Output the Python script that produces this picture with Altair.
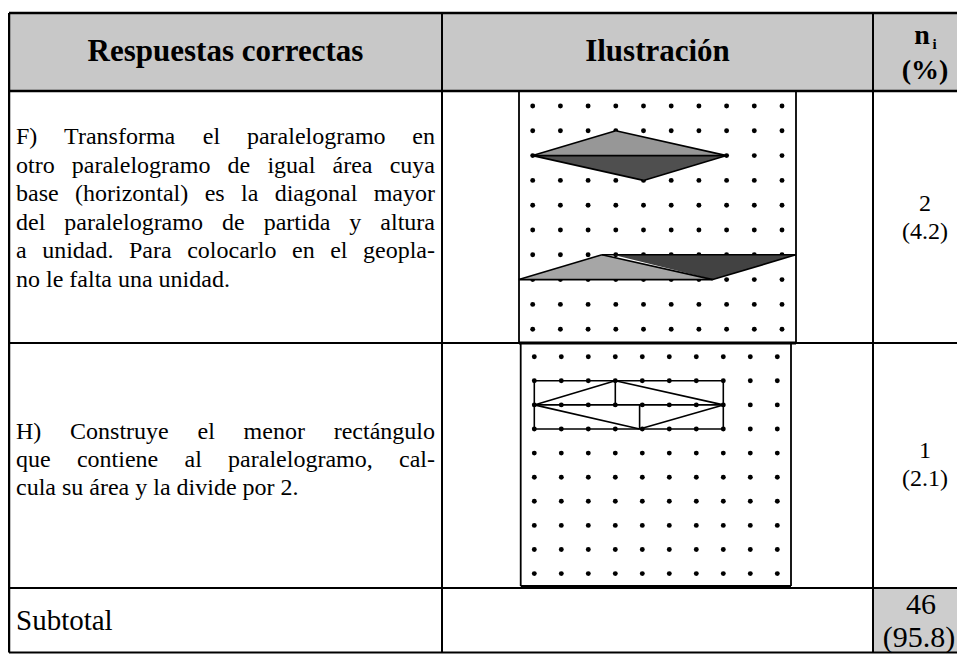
import altair as alt
import pandas as pd

# ---------------- data ----------------
header_labels = ["Respuestas correctas", "Ilustración"]
answer_F = [
    "F) Transforma el paralelogramo en",
    "otro paralelogramo de igual área cuya",
    "base (horizontal) es la diagonal mayor",
    "del paralelogramo de partida y altura",
    "a unidad. Para colocarlo en el geopla-",
    "no le falta una unidad.",
]
answer_H = [
    "H) Construye el menor rectángulo",
    "que contiene al paralelogramo, cal-",
    "cula su área y la divide por 2.",
]
counts = ["2", "1", "46"]
percents = ["(4.2)", "(2.1)", "(95.8)"]
subtotal_label = "Subtotal"

# geoplane pegs (10 x 10)
grid_cols = list(range(10))
grid_rows = list(range(10))

# geoplane F: filled triangles (col, row) with a horizontal base row
f_rhombus_top = [(0, 2), (3, 1), (7, 2)]
f_rhombus_bottom = [(0, 2), (4, 3), (7, 2)]
f_para_left = [(-0.5, 7), (2.5, 6), (6.5, 7)]
f_para_right = [(2.9, 6), (6.5, 7), (9.5, 6)]
# geoplane F outline segments
f_edges = [((0, 2), (3, 1)), ((3, 1), (7, 2)), ((7, 2), (4, 3)), ((4, 3), (0, 2)),
           ((0, 2), (7, 2)),
           ((-0.5, 7), (2.5, 6)), ((2.5, 6), (9.5, 6)), ((9.5, 6), (6.5, 7)),
           ((6.5, 7), (-0.5, 7)), ((2.5, 6), (6.5, 7))]
# geoplane H outline segments
h_edges = [((0, 1), (7, 1)), ((7, 1), (7, 3)), ((7, 3), (0, 3)), ((0, 3), (0, 1)),
           ((0, 2), (3, 1)), ((3, 1), (7, 2)), ((7, 2), (3.9, 3)), ((3.9, 3), (0, 2)),
           ((0, 2), (7, 2)), ((3, 1), (3, 2)), ((3.9, 2), (3.9, 3))]

# ---------------- layout (page pixels) ----------------
W, H = 949, 646
X_DOM, Y_DOM = [8, 957], [8, 654]
L, T, R, B = 9, 13, 957, 652.5
HB, RF, RH = 91, 343, 588
C1, C2 = 442, 873
PLANES = {"F": (532.7, 27.7, 106.0, 24.8), "H": (534.3, 27.0, 356.7, 24.1)}
SERIF = "Liberation Serif"
BODY_FS = 24
TEXT_L, TEXT_R = 16, 435

xs = alt.Scale(domain=X_DOM, nice=False, zero=False)
ys = alt.Scale(domain=Y_DOM, nice=False, zero=False, reverse=True)


def X(f):
    return alt.X(f, type="quantitative", scale=xs, axis=None)


def Y(f):
    return alt.Y(f, type="quantitative", scale=ys, axis=None)


def px(field):
    (xf, dxf, _, _), (xh, dxh, _, _) = PLANES["F"], PLANES["H"]
    return f"datum.plane == 'F' ? {xf} + datum.{field} * {dxf} : {xh} + datum.{field} * {dxh}"


def py(field):
    (_, _, yf, dyf), (_, _, yh, dyh) = PLANES["F"], PLANES["H"]
    return f"datum.plane == 'F' ? {yf} + datum.{field} * {dyf} : {yh} + datum.{field} * {dyh}"


# table background cells and lines
cells = pd.DataFrame([
    dict(x=L, y=T, x2=R, y2=HB, c="#c8c8c8"),
    dict(x=C2, y=RH, x2=R, y2=B, c="#cdcdcd"),
])
rules = pd.DataFrame([
    dict(x=L, y=T, x2=R, y2=T, w=2.5),
    dict(x=L, y=T, x2=L, y2=B, w=2.5),
    dict(x=L, y=HB, x2=R, y2=HB, w=2.5),
    dict(x=L, y=RF, x2=R, y2=RF, w=2),
    dict(x=519, y=RF, x2=796, y2=RF, w=3),
    dict(x=L, y=RH, x2=R, y2=RH, w=2),
    dict(x=L, y=B, x2=R, y2=B, w=2),
    dict(x=C1, y=T, x2=C1, y2=B, w=2),
    dict(x=C2, y=T, x2=C2, y2=B, w=2),
    dict(x=519, y=HB, x2=519, y2=RF, w=1.8),
    dict(x=796, y=HB, x2=796, y2=RF, w=1.8),
    dict(x=520.7, y=RF, x2=520.7, y2=586, w=1.8),
    dict(x=791, y=RF, x2=791, y2=586, w=1.8),
    dict(x=520.7, y=586, x2=791, y2=586, w=1.8),
])

cell_layer = alt.Chart(cells).mark_rect().encode(
    x=X("x"), x2="x2", y=Y("y"), y2="y2", color=alt.Color("c:N", scale=None))
rule_layer = alt.Chart(rules).mark_rule(color="black").encode(
    x=X("x"), x2="x2", y=Y("y"), y2="y2", strokeWidth=alt.StrokeWidth("w:Q", scale=None))

# pegs
pegs = pd.DataFrame([dict(plane=p, col=c, row=r)
                     for p in ["F", "H"] for r in grid_rows for c in grid_cols])
peg_layer = alt.Chart(pegs).transform_calculate(px=px("col"), py=py("row")).mark_circle(
    size=24, color="black", opacity=1).encode(x=X("px"), y=Y("py"))

# filled triangles
tri_rows = []
for name, pts in [("rt", f_rhombus_top), ("rb", f_rhombus_bottom),
                  ("pl", f_para_left), ("pr", f_para_right)]:
    base = pts[0][1]
    for c, r in pts:
        tri_rows.append(dict(plane="F", shape=name, col=c, row=r, base=base))
tris = pd.DataFrame(tri_rows)
tri_layer = alt.Chart(tris).transform_calculate(
    px=px("col"), py=py("row"), pyb=py("base")).mark_area(opacity=1).encode(
    x=X("px"), y=Y("py"), y2="pyb",
    color=alt.Color("shape:N", legend=None,
                    scale=alt.Scale(domain=["rt", "rb", "pl", "pr"],
                                    range=["#979797", "#4f4f4f", "#a6a6a6", "#424242"])))

# outline segments
seg_rows = []
for plane, edges in [("F", f_edges), ("H", h_edges)]:
    for (c1, r1), (c2, r2) in edges:
        seg_rows.append(dict(plane=plane, c1=c1, r1=r1, c2=c2, r2=r2))
segs = pd.DataFrame(seg_rows)
seg_layer = alt.Chart(segs).transform_calculate(
    x1=px("c1"), y1=py("r1"), x2=px("c2"), y2=py("r2")).mark_rule(
    color="black", strokeWidth=1.6).encode(x=X("x1"), y=Y("y1"), x2="x2", y2="y2")

# ---------------- texts ----------------
TW = {' ': 250, 'a': 444, 'b': 500, 'c': 444, 'd': 500, 'e': 444, 'f': 333, 'g': 500,
      'h': 500, 'i': 278, 'j': 278, 'k': 500, 'l': 278, 'm': 778, 'n': 500, 'o': 500,
      'p': 500, 'q': 500, 'r': 333, 's': 389, 't': 278, 'u': 500, 'v': 500, 'w': 722,
      'x': 500, 'y': 500, 'z': 444, 'á': 444, 'F': 556, 'H': 722, 'C': 667, 'P': 556,
      'T': 611, '(': 333, ')': 333, '.': 250, ',': 250, '-': 333, '2': 500}


def wwidth(s, fs):
    return sum(TW.get(ch, 500) for ch in s) * fs / 1000.0


def justify(lines, y0, dy):
    out = []
    for i, line in enumerate(lines):
        y = y0 + i * dy
        words = line.split(" ")
        if i == len(lines) - 1 or len(words) == 1:
            out.append(dict(t=line, x=TEXT_L, y=y))
            continue
        widths = [wwidth(w, BODY_FS) for w in words]
        gap = (TEXT_R - TEXT_L - sum(widths)) / (len(words) - 1)
        x = TEXT_L
        for w, ww in zip(words, widths):
            out.append(dict(t=w, x=x, y=y))
            x += ww + gap
    return out


body = pd.DataFrame(justify(answer_F, 137, 28.6) + justify(answer_H, 432, 28.0))
body_layer = alt.Chart(body).mark_text(
    align="left", baseline="middle", font=SERIF, fontSize=BODY_FS, color="black").encode(
    x=X("x"), y=Y("y"), text="t:N")

head = pd.DataFrame([
    dict(t=header_labels[0], x=(L + C1) / 2, y=52, s=31),
    dict(t=header_labels[1], x=(C1 + C2) / 2, y=52, s=31),
    dict(t="n", x=922, y=36, s=28),
    dict(t="i", x=934.5, y=44, s=15),
    dict(t="(%)", x=925, y=71, s=28),
])
head_layer = alt.Chart(head).mark_text(
    align="center", baseline="middle", font=SERIF, fontWeight="bold", color="black").encode(
    x=X("x"), y=Y("y"), text="t:N", size=alt.Size("s:Q", scale=None))

nums = pd.DataFrame([
    dict(t=counts[0], x=925, y=204, s=BODY_FS),
    dict(t=percents[0], x=925, y=232, s=BODY_FS),
    dict(t=counts[1], x=925, y=451, s=BODY_FS),
    dict(t=percents[1], x=925, y=479, s=BODY_FS),
    dict(t=counts[2], x=921, y=605, s=30),
    dict(t=percents[2], x=919, y=638, s=30),
])
num_layer = alt.Chart(nums).mark_text(
    align="center", baseline="middle", font=SERIF, color="black").encode(
    x=X("x"), y=Y("y"), text="t:N", size=alt.Size("s:Q", scale=None))

sub = pd.DataFrame([dict(t=subtotal_label, x=16, y=621)])
sub_layer = alt.Chart(sub).mark_text(
    align="left", baseline="middle", font=SERIF, fontSize=29, color="black").encode(
    x=X("x"), y=Y("y"), text="t:N")

chart = alt.layer(
    cell_layer, rule_layer, peg_layer, tri_layer, seg_layer,
    body_layer, head_layer, num_layer, sub_layer,
).properties(
    width=W, height=H, padding=0, autosize="none", background="white"
).configure_view(stroke=None)

chart.save("out.html", embed_options={"renderer": "svg", "actions": False})
